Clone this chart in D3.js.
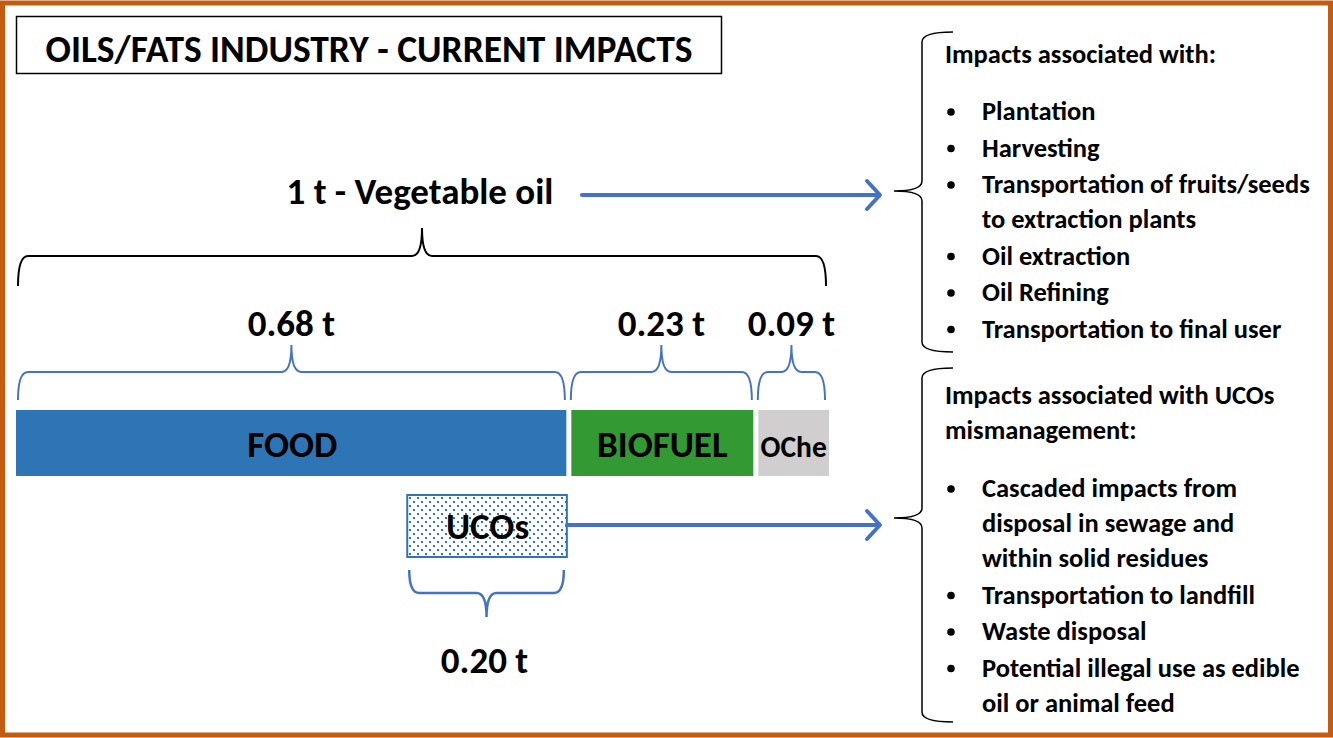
<!DOCTYPE html>
<meta charset="utf-8">
<script src="https://d3js.org/d3.v7.min.js"></script>
<style>
  body { margin: 0; background: #fff; }
  text { font-family: Carlito, Lato, sans-serif; font-weight: bold; fill: #000; }
</style>
<div id="chart"></div>
<script>
  // shares of 1 t of vegetable oil
  var categories = ["FOOD", "BIOFUEL", "OChe"];
  var shares = [0.68, 0.23, 0.09];
  var shareLabels = ["0.68 t", "0.23 t", "0.09 t"];
  var colors = ["#2E75B6", "#339933", "#D0CECE"];
  var ucoShare = 0.20;
  var ucoLabel = "0.20 t";

  var upstreamTitle = "Impacts associated with:";
  var upstreamItems = [
    ["Plantation"],
    ["Harvesting"],
    ["Transportation of fruits/seeds", "to extraction plants"],
    ["Oil extraction"],
    ["Oil Refining"],
    ["Transportation to final user"]
  ];
  var ucoTitle = ["Impacts associated with UCOs", "mismanagement:"];
  var ucoItems = [
    ["Cascaded impacts from", "disposal in sewage and", "within solid residues"],
    ["Transportation to landfill"],
    ["Waste disposal"],
    ["Potential illegal use as edible", "oil or animal feed"]
  ];

  var width = 1333, height = 738;
  var blue = "#4472C4";

  var svg = d3.select("#chart").append("svg")
    .attr("width", width)
    .attr("height", height);

  var defs = svg.append("defs");
  var pat = defs.append("pattern")
    .attr("id", "dots")
    .attr("patternUnits", "userSpaceOnUse")
    .attr("width", 8).attr("height", 8);
  pat.append("rect").attr("width", 8).attr("height", 8).attr("fill", "#fff");
  pat.append("rect").attr("x", 1).attr("y", 1).attr("width", 2).attr("height", 2).attr("fill", "#2E75B6");
  pat.append("rect").attr("x", 5).attr("y", 5).attr("width", 2).attr("height", 2).attr("fill", "#2E75B6");

  // outer frame
  svg.append("rect")
    .attr("x", 2.5).attr("y", 3).attr("width", width - 5).attr("height", height - 6)
    .attr("fill", "none").attr("stroke", "#C55A11").attr("stroke-width", 5);

  // title box
  svg.append("rect")
    .attr("x", 16.5).attr("y", 16.5).attr("width", 705).attr("height", 57)
    .attr("fill", "#fff").attr("stroke", "#000").attr("stroke-width", 1.5);
  svg.append("text")
    .attr("x", 369).attr("y", 62).attr("text-anchor", "middle")
    .attr("font-size", 37.5)
    .text("OILS/FATS INDUSTRY - CURRENT IMPACTS");

  // horizontal scale for the shares
  var x = d3.scaleLinear().domain([0, 1]).range([16, 829]);
  var starts = d3.cumsum([0].concat(shares.slice(0, -1)));
  var segs = shares.map(function (v, i) {
    return { name: categories[i], v: v, x0: starts[i], x1: starts[i] + v, label: shareLabels[i], color: colors[i] };
  });

  // horizontal brace; tip goes to yTip (up or down)
  function hBrace(x1, x2, yLine, yEnd, yTip, r) {
    var m = (x1 + x2) / 2;
    return "M" + x1 + "," + yEnd +
      " Q" + x1 + "," + yLine + " " + (x1 + r) + "," + yLine +
      " L" + (m - r) + "," + yLine +
      " Q" + m + "," + yLine + " " + m + "," + yTip +
      " Q" + m + "," + yLine + " " + (m + r) + "," + yLine +
      " L" + (x2 - r) + "," + yLine +
      " Q" + x2 + "," + yLine + " " + x2 + "," + yEnd;
  }
  // vertical brace, tip pointing left
  function vBrace(y1, y2, xLine, xEnd, xTip, yMid, r) {
    return "M" + xEnd + "," + y1 +
      " Q" + xLine + "," + y1 + " " + xLine + "," + (y1 + r) +
      " L" + xLine + "," + (yMid - r) +
      " Q" + xLine + "," + yMid + " " + xTip + "," + yMid +
      " Q" + xLine + "," + yMid + " " + xLine + "," + (yMid + r) +
      " L" + xLine + "," + (y2 - r) +
      " Q" + xLine + "," + y2 + " " + xEnd + "," + y2;
  }

  function arrow(x1, x2, y) {
    var g = svg.append("g").attr("stroke", blue).attr("stroke-width", 4)
      .attr("stroke-linecap", "round").attr("fill", "none");
    g.append("line").attr("x1", x1).attr("x2", x2 - 2).attr("y1", y).attr("y2", y);
    g.append("path").attr("stroke-linejoin", "round")
      .attr("d", "M" + (x2 - 13) + "," + (y - 14) + " L" + x2 + "," + y + " L" + (x2 - 13) + "," + (y + 14));
  }

  // 1 t label + arrow
  svg.append("text")
    .attr("x", 420).attr("y", 204).attr("text-anchor", "middle")
    .attr("font-size", 37)
    .text("1 t - Vegetable oil");
  arrow(582, 880, 195);

  // big black brace over all
  svg.append("path")
    .attr("d", hBrace(x(0) + 2, x(1) - 3, 256, 286, 228, 10))
    .attr("fill", "none").attr("stroke", "#000").attr("stroke-width", 2);

  // blue braces and labels per segment
  svg.selectAll(".seg-brace").data(segs).enter().append("path")
    .attr("class", "seg-brace")
    .attr("d", function (d) { return hBrace(x(d.x0) + 2, x(d.x1) - 4, 372, 400, 345, 10); })
    .attr("fill", "none").attr("stroke", blue).attr("stroke-width", 2);

  svg.selectAll(".seg-label").data(segs).enter().append("text")
    .attr("class", "seg-label")
    .attr("x", function (d) { return (x(d.x0) + x(d.x1)) / 2 - 1; })
    .attr("y", 336).attr("text-anchor", "middle")
    .attr("font-size", 37)
    .text(function (d) { return d.label; });

  // bars
  var gap = 2.5;
  svg.selectAll(".bar").data(segs).enter().append("rect")
    .attr("class", "bar")
    .attr("x", function (d) { return x(d.x0) + (d.x0 > 0 ? gap : 0); })
    .attr("width", function (d) { return x(d.x1) - x(d.x0) - (d.x0 > 0 ? gap : 0) - (d.x1 < 1 ? gap : 0); })
    .attr("y", 410).attr("height", 66)
    .attr("fill", function (d) { return d.color; });

  svg.selectAll(".bar-label").data(segs).enter().append("text")
    .attr("class", "bar-label")
    .attr("x", function (d) { return (x(d.x0) + x(d.x1)) / 2 + (d.x1 >= 1 ? gap / 2 : 0); })
    .attr("y", 457).attr("text-anchor", "middle")
    .attr("font-size", 37)
    .text(function (d) { return d.name; })
    .each(function (d) {
      // keep the label inside its bar
      var room = x(d.x1) - x(d.x0) - 2 * gap - 2;
      var w = this.getComputedTextLength();
      if (w > room) d3.select(this).attr("font-size", 37 * room / w);
    });

  // UCOs box at the end of FOOD
  var ucoEnd = shares[0], ucoStart = shares[0] - ucoShare;
  svg.append("rect")
    .attr("x", x(ucoStart) + 1).attr("y", 495)
    .attr("width", x(ucoEnd) - x(ucoStart) - 3).attr("height", 62)
    .attr("fill", "url(#dots)").attr("stroke", "#2E75B6").attr("stroke-width", 2);
  svg.append("text")
    .attr("x", (x(ucoStart) + x(ucoEnd)) / 2).attr("y", 539).attr("text-anchor", "middle")
    .attr("font-size", 37)
    .text("UCOs");
  arrow(567, 880, 525);

  // brace under UCOs (tip down)
  svg.append("path")
    .attr("d", hBrace(x(ucoStart) + 3, x(ucoEnd) - 5, 593, 570, 617, 10))
    .attr("fill", "none").attr("stroke", blue).attr("stroke-width", 2.5);
  svg.append("text")
    .attr("x", (x(ucoStart) + x(ucoEnd)) / 2 - 3).attr("y", 673).attr("text-anchor", "middle")
    .attr("font-size", 37)
    .text(ucoLabel);

  // right side braces
  svg.append("path")
    .attr("d", vBrace(32, 352, 922, 953, 894, 191, 10))
    .attr("fill", "none").attr("stroke", "#000").attr("stroke-width", 1.5);
  svg.append("path")
    .attr("d", vBrace(368, 722, 922, 953, 894, 518, 10))
    .attr("fill", "none").attr("stroke", "#000").attr("stroke-width", 1.5);

  var fs = 26.5, lh = 36.5, bulletX = 951, textX = 982;

  function block(titleLines, y0, items, yItems) {
    titleLines.forEach(function (t, i) {
      svg.append("text").attr("x", 945).attr("y", y0 + i * 34.5)
        .attr("font-size", fs).text(t);
    });
    var y = yItems;
    items.forEach(function (lines) {
      svg.append("circle").attr("cx", bulletX).attr("cy", y - 8).attr("r", 3.8).attr("fill", "#000");
      lines.forEach(function (l, j) {
        svg.append("text").attr("x", textX).attr("y", y + j * 35)
          .attr("font-size", fs).text(l);
      });
      y += (lines.length - 1) * 35 + lh;
    });
  }

  block([upstreamTitle], 63, upstreamItems, 120);
  block(ucoTitle, 404, ucoItems, 497);
</script>
